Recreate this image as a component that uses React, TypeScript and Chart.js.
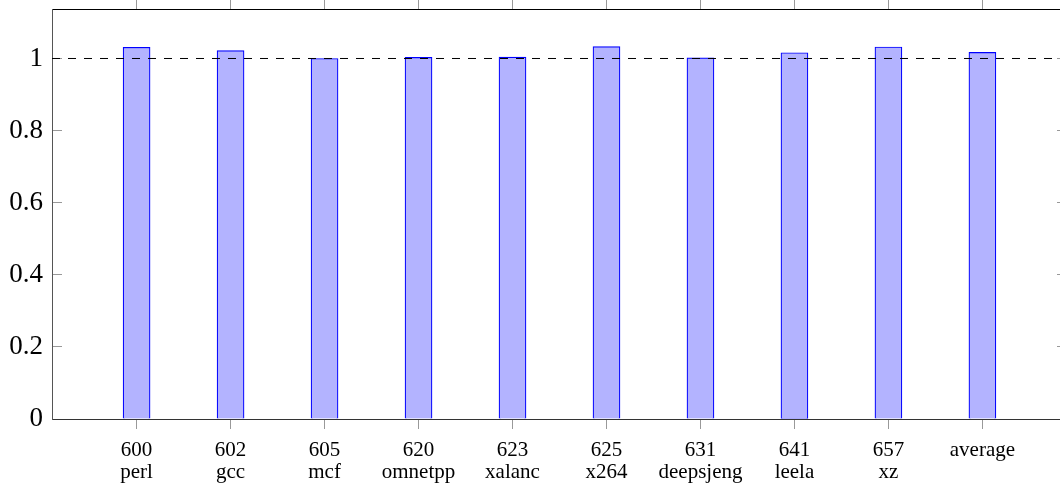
import React, { useEffect, useRef } from 'react';
import { Chart, registerables } from 'chart.js';

Chart.register(...registerables);

// ---- Data ----
const benchmarkIds = ['600', '602', '605', '620', '623', '625', '631', '641', '657', 'average'];
const benchmarkNames = ['perl', 'gcc', 'mcf', 'omnetpp', 'xalanc', 'x264', 'deepsjeng', 'leela', 'xz', ''];
const normalizedValues = [1.031, 1.022, 1.0, 1.003, 1.004, 1.033, 1.002, 1.016, 1.032, 1.017];
const yTickValues = [0, 0.2, 0.4, 0.6, 0.8, 1];
const referenceLevel = 1;

// ---- Axis ranges ----
const xMin = -0.9;
const xMax = 9.9;
const yMin = 0;
const yMax = 1.1373;

const FONT = 'Liberation Serif';

const noPad = (axis: any) => {
  axis.paddingTop = 0;
  axis.paddingBottom = 0;
  axis.paddingLeft = 0;
  axis.paddingRight = 0;
};

export default function App() {
  const canvasRef = useRef<HTMLCanvasElement | null>(null);

  useEffect(() => {
    if (!canvasRef.current) return;
    const setXTicks = (axis: any) => {
      axis.ticks = benchmarkIds.map((_, i) => ({ value: i }));
    };
    const setYTicks = (axis: any) => {
      axis.ticks = yTickValues.map((v) => ({ value: v }));
    };

    const chart = new Chart(canvasRef.current, {
      type: 'bar',
      data: {
        datasets: [
          {
            type: 'line',
            data: [
              { x: xMin, y: referenceLevel },
              { x: xMax, y: referenceLevel },
            ],
            borderColor: '#000000',
            borderWidth: 1,
            borderDash: [8, 8],
            pointRadius: 0,
            fill: false,
            order: 0,
            xAxisID: 'x',
            yAxisID: 'y',
          } as any,
          {
            type: 'bar',
            data: normalizedValues.map((v, i) => ({ x: i, y: v })),
            backgroundColor: 'rgb(179,179,255)',
            borderColor: 'rgb(0,0,255)',
            borderWidth: 1.2,
            barThickness: 27,
            order: 1,
            xAxisID: 'x',
            yAxisID: 'y',
          } as any,
        ],
      },
      options: {
        responsive: false,
        animation: false,
        layout: { autoPadding: false, padding: { left: 0, right: 8, top: 0, bottom: 0 } },
        plugins: {
          legend: { display: false },
          title: { display: false },
          tooltip: { enabled: false },
        },
        scales: {
          x: {
            type: 'linear',
            position: 'bottom',
            offset: false,
            min: xMin,
            max: xMax,
            afterBuildTicks: setXTicks,
            afterFit: (axis: any) => {
              axis.height = 70;
              noPad(axis);
            },
            ticks: {
              autoSkip: false,
              maxRotation: 0,
              minRotation: 0,
              padding: 10,
              color: '#000',
              font: { family: FONT, size: 21, lineHeight: 1.05 },
              callback: (v: any) => {
                const i = Math.round(Number(v));
                return benchmarkNames[i] ? [benchmarkIds[i], benchmarkNames[i]] : benchmarkIds[i];
              },
            },
            grid: { offset: false, drawOnChartArea: false, drawTicks: true, tickLength: 10, color: '#999', lineWidth: 1 },
            border: { display: true, color: '#333', width: 1 },
          },
          x2: {
            type: 'linear',
            position: 'top',
            offset: false,
            min: xMin,
            max: xMax,
            afterBuildTicks: setXTicks,
            afterFit: (axis: any) => {
              axis.height = 9;
              noPad(axis);
            },
            ticks: { display: false },
            grid: { offset: false, drawOnChartArea: false, drawTicks: true, tickLength: 9, color: '#999', lineWidth: 1 },
            border: { display: true, color: '#000', width: 1 },
          },
          y: {
            type: 'linear',
            position: 'left',
            min: yMin,
            max: yMax,
            afterBuildTicks: setYTicks,
            afterFit: (axis: any) => {
              axis.width = 52;
              noPad(axis);
            },
            ticks: {
              padding: 19,
              color: '#000',
              font: { family: FONT, size: 27 },
              callback: (v: any) => String(v),
            },
            grid: { drawOnChartArea: false, drawTicks: true, tickLength: -10, color: '#999', lineWidth: 1 },
            border: { display: true, color: '#555', width: 1 },
          },
          y2: {
            type: 'linear',
            position: 'right',
            min: yMin,
            max: yMax,
            afterBuildTicks: setYTicks,
            afterFit: (axis: any) => {
              axis.width = 0;
              noPad(axis);
            },
            ticks: { display: false },
            grid: { drawOnChartArea: false, drawTicks: true, tickLength: -10, color: '#999', lineWidth: 1 },
            border: { display: true, color: '#000', width: 1 },
          },
        },
      } as any,
    });
    return () => chart.destroy();
  }, []);

  return (
    <div
      style={{
        position: 'fixed',
        left: 0,
        top: 0,
        width: 1060,
        height: 489,
        overflow: 'hidden',
        background: '#fff',
      }}
    >
      <canvas ref={canvasRef} width={1075} height={489} style={{ display: 'block' }} />
    </div>
  );
}
